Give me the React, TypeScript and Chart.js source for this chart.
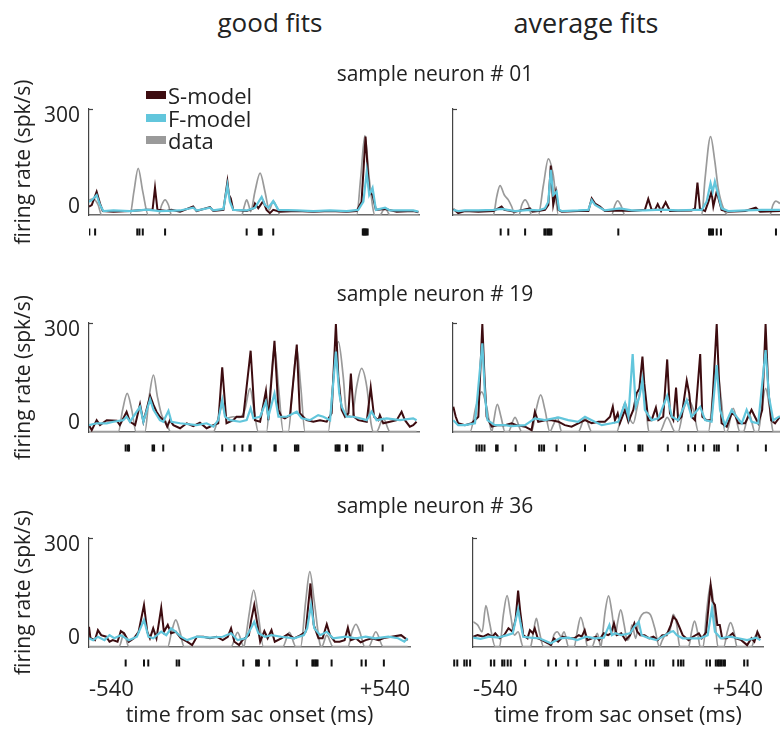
import React, { useEffect, useRef } from "react";
import { Chart, registerables } from "chart.js";

Chart.register(...registerables);

const FONT = "'Open Sans', 'Noto Sans', sans-serif";

// ---------- axes / labels ----------
const xTickValues = [-540, 540];
const xTickLabels = ["-540", "+540"];
const yTickValues = [0, 300];
const yTickLabels = ["0", "300"];
const X_MIN = -540;
const X_MAX = 540;
const Y_MIN = -28;
const Y_MAX = 322;
const RASTER_LEVEL = 0.5; // spike ticks sit mid-way in their own strip

const seriesNames = ["S-model", "F-model", "data"];
const seriesColors = ["#3d0c10", "#62c6dc", "#9a9a9a"];
const columnTitles = ["good fits", "average fits"];
const neuronTitles = ["sample neuron # 01", "sample neuron # 19", "sample neuron # 36"];
const xAxisTitle = "time from sac onset (ms)";
const yAxisTitle = "firing rate (spk/s)";

// ---------- neuron #01, good fit ----------
const g01_sT = [-540,-531,-515,-504,-495,-460,-406,-351,-332,-324,-316,-286,-270,-242,-199,-188,-144,-133,-100,-87,-82,-76,-68,-24,-2,3,14,30,41,52,63,85,140,194,249,303,336,352,365,377,388,399,429,467,521,538];
const g01_sV = [0,5,49,10,-15,-17,-15,-11,-11,62,-11,-15,-11,-17,0,-15,-2,-15,-11,82,38,27,-11,-15,-6,10,-6,18,-11,-22,-11,-17,-15,-17,-15,-17,-15,16,231,49,38,-11,-8,-17,-15,-19];
const g01_fT = [-540,-531,-515,-504,-493,-460,-406,-351,-308,-242,-199,-188,-144,-133,-100,-87,-79,-68,-24,3,25,36,47,63,80,140,194,249,303,341,358,369,377,388,399,429,445,521,538];
const g01_fV = [16,21,38,5,-15,-13,-15,-10,-15,-13,-4,-13,-4,-13,-8,71,16,-11,-13,-4,32,5,-4,18,-11,-13,-15,-13,-15,-11,16,115,38,62,-11,-4,-13,-13,-17];
const g01_dT = [-540,-526,-510,-499,-406,-393,-379,-364,-346,-313,-302,-291,-280,-270,-40,-32,-24,-16,-11,3,20,36,50,63,76,85,336,349,363,377,396,412,429,445,538];
const g01_dV = [22,25,5,-28,-28,49,126,49,-28,-28,5,22,5,-28,-28,0,22,0,-17,49,110,49,-11,18,-6,-28,-28,93,234,93,-28,-28,-4,-28,-28];
const g01_spikes = [-539,-520,-382,-375,-364,-291,-24,16,19,22,25,63,356,359,362,365,368,372];

// ---------- neuron #01, average fit ----------
const a01_sT = [-539,-523,-501,-457,-408,-381,-372,-337,-288,-280,-261,-239,-228,-220,-212,-203,-195,-184,-130,-97,-86,-75,-59,-43,6,45,88,99,110,121,130,141,156,170,241,252,260,268,285,296,306,312,323,339,361,416,451,465,530];
const a01_sV = [-8,-22,-15,-17,-15,0,-11,-17,-6,-17,-15,-11,5,135,5,49,-11,-17,-15,-15,27,10,0,-15,-13,-15,-11,25,-11,-11,8,-15,14,-15,-13,-6,79,-6,-15,16,49,0,49,-11,-17,-15,-4,-17,-15];
const a01_fT = [-539,-523,-501,-457,-408,-381,-337,-288,-261,-239,-228,-220,-212,-201,-193,-184,-130,-97,-86,-75,-59,-43,6,45,88,143,197,252,274,290,303,310,317,328,339,361,416,470,530];
const a01_fV = [-11,-15,-13,-13,-11,-8,-15,-11,-13,-6,16,121,38,49,-11,-15,-13,-11,21,5,-4,-13,-6,-13,-13,-10,-13,-11,-11,16,77,49,82,38,-6,-15,-13,-11,-11];
const a01_dT = [-539,-408,-397,-386,-372,-359,-348,-337,-324,-315,-304,-293,-283,-261,-244,-228,-212,-195,-21,-10,-1,9,23,274,285,303,317,328,345,361,497,507,517,530];
const a01_dV = [-28,-28,32,69,38,22,0,-28,-28,5,22,5,-28,-28,71,157,104,-28,-28,5,19,5,-28,-28,93,231,148,60,-6,-28,-28,5,18,10];
const a01_spikes = [-384,-359,-304,-241,-237,-231,-227,-223,-218,1,298,302,306,311,323,337,517];

// ---------- neuron #19, good fit ----------
const g19_sT = [-540,-531,-515,-504,-482,-449,-439,-417,-406,-389,-373,-362,-340,-329,-319,-308,-291,-284,-275,-264,-242,-220,-199,-177,-155,-133,-117,-104,-90,-68,-57,-35,-11,3,20,39,47,67,80,90,101,118,140,150,172,194,216,238,254,268,276,287,298,309,317,327,341,369,382,393,407,412,423,445,467,483,494,510,521,532];
const g19_sV = [-6,-22,10,-6,10,8,-6,37,5,-6,61,5,88,59,37,21,5,-11,10,-6,-16,0,-9,2,-16,-6,0,180,0,10,21,21,233,10,5,104,10,265,43,21,16,26,253,32,10,5,10,5,32,319,150,43,21,32,160,21,10,5,115,21,10,26,0,5,10,37,10,-11,-6,5];
const g19_fT = [-540,-515,-482,-460,-428,-417,-406,-373,-362,-340,-329,-308,-297,-280,-270,-242,-188,-155,-133,-117,-104,-95,-79,-46,-24,-11,-2,20,39,47,67,80,107,140,156,183,210,227,249,268,279,287,303,325,347,369,385,401,434,478,521,532];
const g19_fV = [-6,0,0,5,10,21,5,53,5,77,43,10,5,40,5,0,-6,0,-11,10,75,21,10,5,10,48,16,21,69,21,96,21,21,37,16,10,26,21,10,230,96,53,21,21,16,10,37,10,16,10,16,10];
const g19_dT = [-540,-444,-430,-415,-400,-386,-357,-343,-329,-316,-302,-288,-273,-133,-119,-104,-90,-68,-46,-30,-13,0,14,41,54,67,80,96,112,127,140,153,167,243,260,276,292,303,320,336,352,369,383,391,401,423,445,532];
const g19_dV = [-27,-27,43,96,43,-27,-27,85,155,85,26,5,-27,-27,10,53,16,21,19,43,112,43,-27,-27,118,246,118,-27,-27,118,241,118,-27,-27,150,262,150,32,21,118,176,118,0,-27,-27,16,-27,-27];
const g19_spikes = [-420,-413,-409,-332,-327,-297,-104,-64,-38,-15,-11,67,71,134,140,145,267,272,276,280,301,305,342,347,355,421];

// ---------- neuron #19, average fit ----------
const a19_sT = [-539,-531,-523,-501,-479,-457,-444,-437,-430,-413,-392,-370,-348,-332,-304,-283,-272,-261,-239,-217,-195,-174,-152,-130,-108,-86,-64,-43,-26,-17,-10,-1,6,23,34,50,61,70,80,86,99,110,124,132,148,161,170,181,190,197,208,225,233,241,252,269,276,290,306,323,330,339,356,372,383,394,416,437,448,459,472,483,492,501,514,530];
const a19_sV = [53,21,0,-6,0,21,319,150,21,-11,-6,-6,0,-6,-11,-22,37,5,10,10,5,-6,-11,0,10,0,5,5,21,53,10,32,0,43,5,43,96,112,214,128,10,10,50,10,21,205,32,10,115,10,21,137,96,21,10,222,21,10,10,319,150,0,-11,32,26,0,0,43,21,0,43,319,107,10,0,21];
const a19_fT = [-539,-523,-501,-468,-444,-435,-427,-403,-370,-348,-304,-272,-239,-195,-163,-130,-108,-86,-53,-21,1,23,34,48,58,70,80,88,110,132,161,176,197,225,241,269,285,306,323,334,350,372,388,405,421,437,459,483,494,508,530];
const a19_fV = [10,-6,-6,0,257,85,10,-6,-6,-9,-6,16,10,19,10,5,21,10,-6,0,5,64,21,222,53,85,139,43,10,16,88,21,10,75,21,53,10,5,187,43,-6,43,21,0,43,5,0,235,85,10,23];
const a19_dT = [-539,-484,-465,-446,-430,-413,-408,-395,-383,-370,-359,-337,-315,-283,-268,-253,-239,-223,-212,-199,-184,-130,-108,-86,-4,10,23,36,50,63,77,92,101,137,161,187,197,214,230,247,263,296,310,323,337,350,356,377,399,410,429,448,459,470,483,497,508,530];
const a19_dV = [-27,-27,53,101,53,-27,0,61,21,-27,-27,19,-27,-27,43,91,43,-27,-6,19,-27,-27,19,-27,-27,21,66,21,0,53,118,43,-27,-27,19,-27,-27,43,75,43,-27,-27,85,176,85,-27,-27,48,-27,-27,32,-27,-27,43,112,43,-27,-27];
const a19_spikes = [-463,-454,-446,-437,-399,-394,-335,-258,-250,-242,-201,-108,23,67,72,80,163,230,252,279,315,323,330,392,484];

// ---------- neuron #36, good fit ----------
const g36_sT = [-540,-535,-520,-510,-499,-482,-471,-460,-444,-433,-422,-406,-389,-373,-355,-344,-335,-324,-313,-297,-288,-275,-264,-248,-231,-210,-193,-177,-155,-133,-111,-90,-73,-62,-51,-35,-24,-2,5,16,27,36,50,61,74,85,107,129,150,172,189,205,216,232,246,260,271,287,303,320,331,341,358,374,391,412,434,456,478,510,532];
const g36_sV = [37,0,-6,26,10,5,-11,-6,-11,23,16,-11,0,21,107,21,0,32,0,98,21,43,16,21,0,-11,-22,5,5,0,5,-6,5,32,-11,-22,-6,10,55,107,43,-11,23,0,26,-11,0,13,0,10,21,176,43,0,0,45,10,-11,-11,-6,34,-6,0,-13,-6,0,-6,2,5,10,-6];
const g36_fT = [-540,-526,-510,-488,-471,-455,-433,-406,-379,-355,-340,-324,-297,-280,-264,-248,-231,-210,-177,-133,-90,-62,-40,-13,5,16,30,52,74,107,150,183,194,207,218,238,260,281,325,358,391,423,467,500,521,532];
const g36_fV = [0,-6,5,-6,10,0,10,-6,5,59,5,0,21,10,32,21,5,-6,5,2,5,16,-6,0,32,53,16,5,10,5,0,10,32,107,32,10,21,0,5,0,5,0,5,0,-11,0];
const g36_dT = [-540,-439,-422,-406,-275,-262,-248,-234,-220,-62,-40,-19,-13,0,14,28,47,112,134,156,172,189,203,218,238,243,260,281,331,345,358,371,388,401,425,450,532];
const g36_dV = [-27,-27,16,-27,-27,21,59,21,-27,-27,19,-27,0,85,155,85,-27,-27,19,-27,-27,118,214,118,-22,-27,10,-27,-27,21,45,21,-27,-27,21,-27,-27];
const g36_spikes = [-420,-360,-346,-253,-245,-35,7,12,16,50,140,191,195,200,204,208,254,352,366,425];

// ---------- neuron #36, average fit ----------
const a36_sT = [-539,-523,-501,-484,-468,-457,-441,-424,-408,-392,-381,-372,-364,-353,-337,-328,-317,-310,-299,-283,-261,-250,-239,-223,-206,-184,-163,-146,-135,-124,-114,-97,-81,-70,-53,-37,-26,-15,-4,12,28,45,61,72,83,99,116,132,148,165,181,197,206,217,228,241,263,279,301,312,328,345,352,361,370,379,388,405,427,437,459,481,497,508,519,530];
const a36_sV = [5,10,5,13,5,16,0,10,32,21,64,153,85,10,0,26,16,32,0,-6,-16,-22,0,-11,5,0,0,10,5,26,-6,0,5,-6,16,10,16,48,10,16,-6,10,48,21,10,10,0,5,-6,10,10,43,69,59,37,10,-6,5,16,0,19,171,118,107,43,43,0,0,16,0,-6,-22,0,-11,21,0];
const a36_fT = [-539,-512,-479,-446,-413,-392,-372,-364,-353,-326,-293,-250,-217,-184,-152,-119,-86,-53,-32,-23,-10,12,45,61,77,88,110,143,176,197,206,219,241,274,306,334,350,361,383,416,448,481,514,530];
const a36_fV = [2,-2,5,2,10,16,93,53,5,2,0,-16,0,2,-6,5,0,2,43,10,16,10,16,37,53,10,2,-6,10,21,23,10,0,0,0,10,96,21,0,5,0,-6,2,-6];
const a36_dT = [-539,-523,-506,-492,-479,-457,-441,-427,-413,-400,-386,-372,-353,-326,-315,-304,-293,-277,-250,-239,-226,-212,-201,-184,-163,-152,-139,-124,-114,-97,-77,-64,-59,-48,-35,-23,-10,-1,10,23,34,45,52,66,77,88,105,121,137,154,165,181,192,206,219,230,263,274,285,296,306,317,330,345,359,372,394,407,419,432,443,497,514,530];
const a36_dV = [53,43,21,105,53,-27,-27,75,137,75,10,21,-27,-27,21,64,21,-27,-27,10,21,5,21,-27,-27,21,67,21,-27,-27,16,-27,0,85,136,85,10,53,91,43,-6,10,43,0,53,75,83,75,32,-27,-6,16,21,77,43,-27,-27,21,55,21,-27,-27,85,173,85,-27,-27,21,50,21,-27,-27,10,-6];
const a36_spikes = [-536,-526,-503,-495,-484,-416,-405,-379,-372,-361,-351,-304,-228,-203,-163,-135,-75,-43,-37,-32,1,10,58,92,105,116,181,197,206,214,290,301,320,326,330,335,339,345,350,413,424];

type PanelData = {
  sT: number[]; sV: number[];
  fT: number[]; fV: number[];
  dT: number[]; dV: number[];
  spikes: number[];
};

const panels: PanelData[][] = [
  [
    { sT: g01_sT, sV: g01_sV, fT: g01_fT, fV: g01_fV, dT: g01_dT, dV: g01_dV, spikes: g01_spikes },
    { sT: a01_sT, sV: a01_sV, fT: a01_fT, fV: a01_fV, dT: a01_dT, dV: a01_dV, spikes: a01_spikes },
  ],
  [
    { sT: g19_sT, sV: g19_sV, fT: g19_fT, fV: g19_fV, dT: g19_dT, dV: g19_dV, spikes: g19_spikes },
    { sT: a19_sT, sV: a19_sV, fT: a19_fT, fV: a19_fV, dT: a19_dT, dV: a19_dV, spikes: a19_spikes },
  ],
  [
    { sT: g36_sT, sV: g36_sV, fT: g36_fT, fV: g36_fV, dT: g36_dT, dV: g36_dV, spikes: g36_spikes },
    { sT: a36_sT, sV: a36_sV, fT: a36_fT, fV: a36_fV, dT: a36_dT, dV: a36_dV, spikes: a36_spikes },
  ],
];

// ---------- layout ----------
const ROW_TOP = [109, 323, 538];
const ROW_H = [106, 109, 109];
const RASTER_CENTER = [232, 448, 663];
const RASTER_H = 20;
const COL_LEFT = [89, 453];
const PLOT_W = 330;
const PAD_TOP = 40;

const pts = (t: number[], v: number[]) => t.map((x, i) => ({ x, y: v[i] }));

function geometry(row: number, col: number) {
  const isLeft = col === 0;
  const canvasLeft = isLeft ? 0 : COL_LEFT[1] - 10;
  const yW = COL_LEFT[col] - canvasLeft;
  const canvasW = isLeft ? 440 : 350;
  const padRight = canvasW - yW - PLOT_W;
  return { isLeft, canvasLeft, yW, canvasW, padRight };
}

// stub at top of y-axis (the "bracket" end of the axis)
const axisCapPlugin = {
  id: "axisCap",
  afterDraw(chart: any) {
    const y = chart.scales.y;
    if (!y) return;
    const ctx = chart.ctx;
    ctx.save();
    ctx.strokeStyle = "#444";
    ctx.lineWidth = 1.2;
    ctx.beginPath();
    ctx.moveTo(y.right, y.top + 0.5);
    ctx.lineTo(y.right + 4, y.top + 0.5);
    ctx.stroke();
    ctx.restore();
  },
};

function TracePanel({ p, row, col }: { p: PanelData; row: number; col: number }) {
  const ref = useRef<HTMLCanvasElement | null>(null);
  const { isLeft, canvasLeft, yW, canvasW, padRight } = geometry(row, col);
  const isBottom = row === 2;
  const xH = isBottom ? 82 : 36;
  const canvasTop = ROW_TOP[row] - PAD_TOP;
  const canvasH = PAD_TOP + ROW_H[row] + xH;

  useEffect(() => {
    if (!ref.current) return;
    const chart = new Chart(ref.current, {
      type: "line",
      data: {
        datasets: [
          {
            label: seriesNames[1],
            data: pts(p.fT, p.fV),
            borderColor: seriesColors[1],
            borderWidth: 2.2,
            pointRadius: 0,
            tension: 0,
            order: 1,
          },
          {
            label: seriesNames[0],
            data: pts(p.sT, p.sV),
            borderColor: seriesColors[0],
            borderWidth: 2,
            pointRadius: 0,
            tension: 0,
            order: 2,
          },
          {
            label: seriesNames[2],
            data: pts(p.dT, p.dV),
            borderColor: seriesColors[2],
            borderWidth: 1.7,
            pointRadius: 0,
            tension: 0.4,
            cubicInterpolationMode: "monotone",
            order: 3,
          },
        ],
      },
      options: {
        responsive: false,
        animation: false,
        events: [],
        layout: { padding: { top: PAD_TOP, right: padRight, left: 0, bottom: 0 } },
        plugins: { legend: { display: false }, tooltip: { enabled: false } },
        scales: {
          x: {
            type: "linear",
            min: X_MIN,
            max: X_MAX,
            grid: { display: false, drawTicks: false },
            border: { display: true, color: "#6a6a6a", width: 1.5 },
            afterBuildTicks: (s: any) => {
              s.ticks = xTickValues.map((value) => ({ value }));
            },
            afterFit: (s: any) => {
              s.height = xH;
            },
            ticks: {
              display: isBottom,
              padding: 30,
              align: "inner",
              maxRotation: 0,
              autoSkip: false,
              color: "#222",
              font: { family: FONT, size: 22 },
              callback: (v: any) => {
                const i = xTickValues.indexOf(Number(v));
                return i >= 0 ? xTickLabels[i] : "";
              },
            },
            title: {
              display: isBottom,
              text: xAxisTitle,
              color: "#222",
              font: { family: FONT, size: 21.5 },
              padding: 0,
            },
          },
          y: {
            type: "linear",
            min: Y_MIN,
            max: Y_MAX,
            grid: { display: false, drawTicks: false },
            border: { display: true, color: "#444", width: 1.2 },
            afterBuildTicks: (s: any) => {
              s.ticks = yTickValues.map((value) => ({ value }));
            },
            afterFit: (s: any) => {
              s.width = yW;
            },
            ticks: {
              display: isLeft,
              padding: 9,
              color: "#222",
              font: { family: FONT, size: 21 },
              callback: (v: any) => {
                const i = yTickValues.indexOf(Number(v));
                return i >= 0 ? yTickLabels[i] : "";
              },
            },
            title: {
              display: isLeft,
              text: yAxisTitle,
              color: "#222",
              font: { family: FONT, size: 21 },
              padding: { top: 11, bottom: 0 },
            },
          },
        },
      } as any,
      plugins: [axisCapPlugin],
    });
    return () => chart.destroy();
  }, []);

  return (
    <canvas
      ref={ref}
      width={canvasW}
      height={canvasH}
      style={{ position: "absolute", left: canvasLeft, top: canvasTop, width: canvasW, height: canvasH }}
    />
  );
}

function RasterPanel({ p, row, col }: { p: PanelData; row: number; col: number }) {
  const ref = useRef<HTMLCanvasElement | null>(null);
  const { canvasLeft, yW, canvasW, padRight } = geometry(row, col);
  const canvasTop = RASTER_CENTER[row] - RASTER_H / 2;

  useEffect(() => {
    if (!ref.current) return;
    const chart = new Chart(ref.current, {
      type: "scatter",
      data: {
        datasets: [
          {
            label: "spikes",
            data: p.spikes.map((x) => ({ x, y: RASTER_LEVEL })),
            pointStyle: "line",
            pointRotation: 90,
            pointRadius: 4.6,
            pointBorderWidth: 2,
            pointBorderColor: "#111111",
            pointBackgroundColor: "#111111",
          },
        ],
      },
      options: {
        responsive: false,
        animation: false,
        events: [],
        layout: { padding: { top: 0, right: padRight, left: yW, bottom: 0 } },
        plugins: { legend: { display: false }, tooltip: { enabled: false } },
        scales: {
          x: { type: "linear", min: X_MIN, max: X_MAX, display: false },
          y: { type: "linear", min: 0, max: 1, display: false },
        },
      } as any,
    });
    return () => chart.destroy();
  }, []);

  return (
    <canvas
      ref={ref}
      width={canvasW}
      height={RASTER_H}
      style={{ position: "absolute", left: canvasLeft, top: canvasTop, width: canvasW, height: RASTER_H }}
    />
  );
}

const textBase: React.CSSProperties = {
  position: "absolute",
  whiteSpace: "nowrap",
  lineHeight: 1,
  color: "#222",
  fontFamily: FONT,
};

export default function App() {
  const colTitleX = [270, 586];
  const colTitleSize = [26, 27];
  const rowTitleY = [73, 293, 505];
  const legendY = [95, 118, 140];
  return (
    <div
      style={{
        position: "fixed",
        left: 0,
        top: 0,
        width: 780,
        height: 732,
        overflow: "hidden",
        background: "#fff",
        fontFamily: FONT,
      }}
    >
      {panels.map((rowPanels, r) =>
        rowPanels.map((p, c) => (
          <React.Fragment key={`${r}-${c}`}>
            <TracePanel p={p} row={r} col={c} />
            <RasterPanel p={p} row={r} col={c} />
          </React.Fragment>
        ))
      )}
      {columnTitles.map((t, i) => (
        <div
          key={t}
          style={{ ...textBase, left: colTitleX[i], top: 22, fontSize: colTitleSize[i], transform: "translate(-50%, -50%)" }}
        >
          {t}
        </div>
      ))}
      {neuronTitles.map((t, i) => (
        <div key={t} style={{ ...textBase, left: 435, top: rowTitleY[i], fontSize: 21, transform: "translate(-50%, -50%)" }}>
          {t}
        </div>
      ))}
      {seriesNames.map((n, i) => (
        <React.Fragment key={n}>
          <div
            style={{
              position: "absolute",
              left: 146,
              top: legendY[i] - 4,
              width: 20,
              height: 8,
              background: seriesColors[i],
            }}
          />
          <div style={{ ...textBase, left: 168, top: legendY[i], fontSize: 22, transform: "translateY(-50%)" }}>{n}</div>
        </React.Fragment>
      ))}
    </div>
  );
}
